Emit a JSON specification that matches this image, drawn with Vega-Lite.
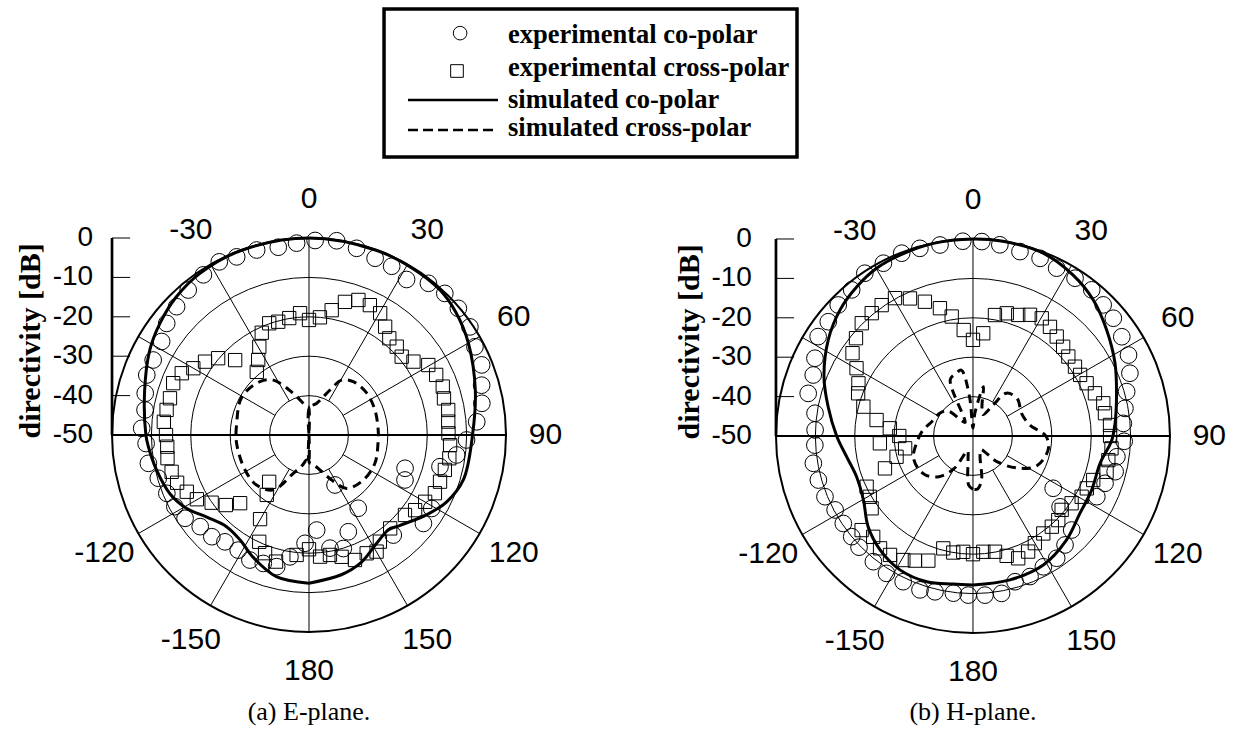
{
"$schema":"https://vega.github.io/schema/vega-lite/v6.json",
"width":1239,"height":738,"padding":0,"autosize":{"type":"none"},
"background":"white",
"config":{"view":{"stroke":null}},
"datasets":{
"rings":[{"lv":-40},{"lv":-30},{"lv":-20},{"lv":-10},{"lv":0}],
"spokes":[{"a":-150},{"a":-120},{"a":-60},{"a":-30},{"a":30},{"a":60},{"a":120},{"a":150}],
"ticks":[{"v":0,"t":"0"},{"v":-10,"t":"-10"},{"v":-20,"t":"-20"},{"v":-30,"t":"-30"},{"v":-40,"t":"-40"},{"v":-50,"t":"-50"}],
"alabels":[{"a":0,"t":"0"},{"a":30,"t":"30"},{"a":60,"t":"60"},{"a":90,"t":"90"},{"a":120,"t":"120"},{"a":150,"t":"150"},{"a":180,"t":"180"},{"a":-150,"t":"-150"},{"a":-120,"t":"-120"},{"a":-30,"t":"-30"}],
"one":[{}],
"Ecs":[{"a":-180,"d":-12.4},{"a":-167,"d":-13.1},{"a":-155,"d":-16},{"a":-147,"d":-18.1},{"a":-138,"d":-18.7},{"a":-129,"d":-16.8},{"a":-121,"d":-13.8},{"a":-113,"d":-11.7},{"a":-103,"d":-10.3},{"a":-94,"d":-9.1},{"a":-90,"d":-8.6},{"a":-75,"d":-6.8},{"a":-62,"d":-4.2},{"a":-53,"d":-2.7},{"a":-44,"d":-1.4},{"a":-34,"d":-0.5},{"a":-20,"d":-0.1},{"a":0,"d":0},{"a":20,"d":-0.1},{"a":32,"d":-0.2},{"a":42,"d":-0.4},{"a":50,"d":-1.4},{"a":60,"d":-3.3},{"a":75,"d":-6.3},{"a":90,"d":-8.5},{"a":106,"d":-9.2},{"a":116,"d":-11.2},{"a":124,"d":-13.9},{"a":135,"d":-17.5},{"a":140,"d":-18.6},{"a":148,"d":-17.6},{"a":158,"d":-15},{"a":167,"d":-13.6},{"a":180,"d":-12.4}],
"Exs":[{"a":-180,"d":-50},{"a":-179,"d":-43},{"a":-174.7,"d":-43.6},{"a":-167,"d":-42},{"a":-157.7,"d":-39.5},{"a":-147,"d":-33.4},{"a":-133.7,"d":-31.6},{"a":-118.7,"d":-31.5},{"a":-96.5,"d":-31.5},{"a":-80.8,"d":-31.4},{"a":-60.4,"d":-30.4},{"a":-42.6,"d":-31.6},{"a":-33,"d":-33.4},{"a":-20.6,"d":-38.7},{"a":-4.6,"d":-42.8},{"a":-1,"d":-43},{"a":0,"d":-50},{"a":1,"d":-43},{"a":13.7,"d":-41.7},{"a":25,"d":-37.4},{"a":30.7,"d":-33.8},{"a":39.7,"d":-32.4},{"a":54.1,"d":-31.9},{"a":69.3,"d":-32.1},{"a":85.9,"d":-32.4},{"a":94.1,"d":-32.4},{"a":113.2,"d":-31.8},{"a":129.6,"d":-32.1},{"a":144.7,"d":-33.4},{"a":153.2,"d":-37.2},{"a":162.6,"d":-40.7},{"a":172,"d":-42.5},{"a":179,"d":-43},{"a":180,"d":-50}],
"Ece":[{"a":1.8,"d":-0.6},{"a":-3.7,"d":-1.2},{"a":-9.3,"d":-1.7},{"a":-15.8,"d":-1.2},{"a":-22.1,"d":-1.2},{"a":-27.4,"d":-0.5},{"a":-33.4,"d":-1.3},{"a":-39.8,"d":-2.1},{"a":-45.9,"d":-3.2},{"a":-51.9,"d":-4.1},{"a":-57.6,"d":-5.7},{"a":-64.3,"d":-6.1},{"a":-69.7,"d":-6.1},{"a":-75.7,"d":-7.1},{"a":-81.3,"d":-7.9},{"a":-87.7,"d":-7.5},{"a":-93,"d":-8.6},{"a":-100,"d":-8.6},{"a":-106,"d":-10.2},{"a":-112.3,"d":-11},{"a":-118.1,"d":-11.4},{"a":-123.9,"d":-12.1},{"a":-130.1,"d":-13.9},{"a":-136.3,"d":-14.3},{"a":-141.8,"d":-15.5},{"a":-148.4,"d":-15.7},{"a":-154.7,"d":-14.9},{"a":-160.4,"d":-15.4},{"a":-166.2,"d":-15.6},{"a":-171.1,"d":-18.7},{"a":-177.9,"d":-22.5},{"a":175.4,"d":-25.8},{"a":169.5,"d":-20.8},{"a":163.2,"d":-19.9},{"a":157.9,"d":-23.5},{"a":152.5,"d":-35.7},{"a":146.1,"d":-27.6},{"a":139.9,"d":-16.8},{"a":127.7,"d":-13.3},{"a":120.9,"d":-13.7},{"a":115.1,"d":-23.1},{"a":109.1,"d":-24.2},{"a":103.6,"d":-15.8},{"a":97.7,"d":-12.2},{"a":91.8,"d":-10},{"a":85.5,"d":-7.3},{"a":79.6,"d":-5.4},{"a":73.9,"d":-4.4},{"a":67.9,"d":-2.7},{"a":62,"d":-2.3},{"a":56.1,"d":-0.8},{"a":49.7,"d":-0.3},{"a":43.8,"d":-0.2},{"a":38.2,"d":-1},{"a":32.1,"d":-3.4},{"a":26.1,"d":-2.3},{"a":20.5,"d":-2.1},{"a":14.3,"d":-1.1},{"a":8.1,"d":-0.2}],
"Exe":[{"a":0,"d":-20.8},{"a":-4.2,"d":-19},{"a":-9.6,"d":-19.9},{"a":-15.2,"d":-20.2},{"a":-19.6,"d":-19.9},{"a":-24.8,"d":-21.4},{"a":-29.4,"d":-24.3},{"a":-34.1,"d":-27},{"a":-39.6,"d":-29.2},{"a":-44.6,"d":-23.3},{"a":-49.8,"d":-19.8},{"a":-54.8,"d":-17.7},{"a":-60,"d":-16.1},{"a":-64.1,"d":-14.1},{"a":-69.1,"d":-13.1},{"a":-75.2,"d":-13.5},{"a":-80,"d":-13.3},{"a":-84.8,"d":-13},{"a":-90,"d":-13.7},{"a":-94.7,"d":-13.9},{"a":-99.3,"d":-13.6},{"a":-105,"d":-13.9},{"a":-109.9,"d":-14.4},{"a":-114.9,"d":-15.8},{"a":-119.8,"d":-17.2},{"a":-124.8,"d":-19.9},{"a":-130.1,"d":-22.4},{"a":-134.7,"d":-25.4},{"a":-139.6,"d":-34.4},{"a":-144.8,"d":-31.4},{"a":-149.8,"d":-25.3},{"a":-155,"d":-20.1},{"a":-159.6,"d":-18},{"a":-165.4,"d":-16.8},{"a":-174.1,"d":-19.4},{"a":180,"d":-21},{"a":5.3,"d":-20},{"a":10.3,"d":-17.8},{"a":15.1,"d":-15},{"a":20.1,"d":-13.5},{"a":25.1,"d":-13.6},{"a":30.3,"d":-14.2},{"a":35.1,"d":-16.4},{"a":39.7,"d":-18.1},{"a":44.8,"d":-18.4},{"a":49.8,"d":-19.2},{"a":54.9,"d":-17.6},{"a":59.6,"d":-14.9},{"a":64.7,"d":-14.3},{"a":70.1,"d":-13.9},{"a":74.8,"d":-14.5},{"a":79.8,"d":-14.1},{"a":84.5,"d":-14.5},{"a":89.3,"d":-14.6},{"a":94.1,"d":-14.1},{"a":99.4,"d":-13.9},{"a":104.4,"d":-14.4},{"a":109.6,"d":-14.7},{"a":114.8,"d":-14.8},{"a":119.9,"d":-16},{"a":125.3,"d":-17},{"a":129.8,"d":-18.3},{"a":139,"d":-18.6},{"a":146.4,"d":-17.5},{"a":149.9,"d":-15.8},{"a":154,"d":-16.6},{"a":159.8,"d":-16.2},{"a":165,"d":-18},{"a":170.1,"d":-19.1},{"a":174.8,"d":-19}],
"Hcs":[{"a":-180,"d":-12.2},{"a":-172.4,"d":-12.1},{"a":-162.4,"d":-11.2},{"a":-151.4,"d":-11.3},{"a":-140.8,"d":-12.7},{"a":-130.9,"d":-14.8},{"a":-120.3,"d":-17.8},{"a":-109.3,"d":-18.7},{"a":-99.3,"d":-17.5},{"a":-90,"d":-15.4},{"a":-78.6,"d":-12.5},{"a":-68.3,"d":-9.3},{"a":-56.4,"d":-5.9},{"a":-46.5,"d":-3.5},{"a":-37.9,"d":-2},{"a":-29.9,"d":-0.9},{"a":-22,"d":-0.5},{"a":-11.6,"d":-0.1},{"a":0,"d":0},{"a":8.8,"d":0},{"a":21,"d":-0.3},{"a":31.9,"d":-1.9},{"a":41.5,"d":-3.9},{"a":51.6,"d":-6.7},{"a":62.9,"d":-9.5},{"a":73.5,"d":-12},{"a":84.9,"d":-13.8},{"a":92,"d":-14.8},{"a":102.1,"d":-17},{"a":114.5,"d":-16.9},{"a":125.9,"d":-16.5},{"a":138,"d":-14.5},{"a":151.4,"d":-12.7},{"a":165.6,"d":-12.3},{"a":180,"d":-12.2}],
"Hxs":[{"a":-180,"d":-36.5},{"a":-175,"d":-37.5},{"a":-168,"d":-44},{"a":-160,"d":-46},{"a":-150,"d":-40.5},{"a":-140,"d":-36.5},{"a":-130,"d":-34.5},{"a":-120,"d":-33.8},{"a":-109,"d":-34},{"a":-97,"d":-35.6},{"a":-85,"d":-37},{"a":-70,"d":-39},{"a":-55,"d":-39.8},{"a":-45,"d":-41},{"a":-37,"d":-45},{"a":-30,"d":-46},{"a":-22,"d":-34.6},{"a":-15,"d":-33.5},{"a":-10,"d":-33},{"a":-5,"d":-40},{"a":0,"d":-48},{"a":5,"d":-44},{"a":12,"d":-37.2},{"a":17,"d":-42.2},{"a":25,"d":-44},{"a":33,"d":-40.6},{"a":38,"d":-36.2},{"a":50,"d":-35.3},{"a":65,"d":-36.4},{"a":79,"d":-35.3},{"a":90,"d":-31.5},{"a":100,"d":-30.6},{"a":115,"d":-32.1},{"a":126,"d":-36.2},{"a":137,"d":-41.1},{"a":150,"d":-46},{"a":161,"d":-44.5},{"a":169,"d":-38.6},{"a":175,"d":-36.5},{"a":180,"d":-36.5}],
"Hce":[{"a":-3,"d":-0.5},{"a":-9.8,"d":-0.8},{"a":-15.8,"d":-0.5},{"a":-21.3,"d":-0.2},{"a":-27.4,"d":-0.6},{"a":-33.6,"d":-0.4},{"a":-39.7,"d":-1.8},{"a":-45.8,"d":-2.3},{"a":-51.7,"d":-3.2},{"a":-57.3,"d":-3.3},{"a":-63.8,"d":-5.3},{"a":-69.1,"d":-6.6},{"a":-75.5,"d":-6.8},{"a":-81.8,"d":-9.5},{"a":-87.8,"d":-9.9},{"a":-93.3,"d":-9.8},{"a":-99.7,"d":-8.9},{"a":-105.9,"d":-9.2},{"a":-112.3,"d":-9.4},{"a":-118.2,"d":-10.3},{"a":-124,"d":-10.3},{"a":-129.7,"d":-10},{"a":-134.3,"d":-9.6},{"a":-141.6,"d":-9.3},{"a":-147.8,"d":-8.8},{"a":-154.4,"d":-9},{"a":-161,"d":-8.7},{"a":-166.3,"d":-9.3},{"a":-172.9,"d":-9.8},{"a":-178.3,"d":-9.6},{"a":175.7,"d":-9.5},{"a":169.7,"d":-9.4},{"a":163.9,"d":-11.5},{"a":157.9,"d":-11.5},{"a":151.7,"d":-12.3},{"a":145.6,"d":-12.4},{"a":139.8,"d":-13.8},{"a":133.6,"d":-15.4},{"a":129.1,"d":-21.5},{"a":123.1,"d":-25.7},{"a":116.1,"d":-15},{"a":109.7,"d":-14.4},{"a":104.1,"d":-12.8},{"a":98.2,"d":-13.1},{"a":92,"d":-11.6},{"a":85.2,"d":-11.7},{"a":79.7,"d":-10.8},{"a":73.9,"d":-9.4},{"a":68.2,"d":-7.1},{"a":62.5,"d":-5.5},{"a":56.3,"d":-4.6},{"a":50,"d":-3.5},{"a":44.8,"d":-3.1},{"a":39.1,"d":-2.2},{"a":32.9,"d":-2.3},{"a":26.5,"d":-2.4},{"a":20.7,"d":-1.8},{"a":14.3,"d":-1.7},{"a":8,"d":-1},{"a":2.6,"d":-0.6}],
"Hxe":[{"a":0,"d":-25.6},{"a":-5,"d":-23},{"a":-10.1,"d":-19.2},{"a":-14.5,"d":-16.5},{"a":-19.7,"d":-13.8},{"a":-24.6,"d":-11.6},{"a":-29.5,"d":-9.8},{"a":-34.9,"d":-9.5},{"a":-39.5,"d":-9.6},{"a":-44.6,"d":-9.8},{"a":-50.1,"d":-11.3},{"a":-55.5,"d":-12.9},{"a":-59.8,"d":-15.8},{"a":-65.3,"d":-18},{"a":-69.6,"d":-18.9},{"a":-75,"d":-21.2},{"a":-80.6,"d":-25.2},{"a":-84.7,"d":-28.8},{"a":-90,"d":-31.3},{"a":-94.5,"d":-26.3},{"a":-100.3,"d":-32.5},{"a":-105.2,"d":-29.9},{"a":-110.2,"d":-26.2},{"a":-115.5,"d":-20.1},{"a":-120.5,"d":-19.6},{"a":-125.5,"d":-18.4},{"a":-130.2,"d":-13},{"a":-135.3,"d":-14},{"a":-140.4,"d":-13},{"a":-145.1,"d":-13.2},{"a":-150.7,"d":-13.9},{"a":-155,"d":-15.1},{"a":-160.3,"d":-16.4},{"a":-165.2,"d":-20.5},{"a":-170.4,"d":-20},{"a":-175.2,"d":-20.5},{"a":180,"d":-20},{"a":5.7,"d":-23.8},{"a":10.3,"d":-18.8},{"a":15.4,"d":-17.7},{"a":20.5,"d":-17.2},{"a":25.2,"d":-16},{"a":30.3,"d":-15.4},{"a":35.2,"d":-16.1},{"a":40.1,"d":-17},{"a":45.3,"d":-17.8},{"a":50.2,"d":-18.5},{"a":55.8,"d":-18.7},{"a":60.3,"d":-18.7},{"a":65.1,"d":-18.2},{"a":70.7,"d":-17.2},{"a":75.9,"d":-15.9},{"a":80.2,"d":-16},{"a":85.4,"d":-15.1},{"a":90,"d":-15.2},{"a":95.1,"d":-14.7},{"a":100.1,"d":-15.1},{"a":105,"d":-14.9},{"a":110.1,"d":-17.5},{"a":114.7,"d":-18.2},{"a":119.2,"d":-18.4},{"a":124.3,"d":-19.7},{"a":129.8,"d":-20.7},{"a":134.6,"d":-19.6},{"a":139,"d":-19.5},{"a":144.2,"d":-19.5},{"a":150,"d":-18.6},{"a":154.5,"d":-17.5},{"a":159.7,"d":-16.9},{"a":164.3,"d":-18.4},{"a":169.2,"d":-20.1},{"a":174.9,"d":-20.5}]
},
"layer":[
{"layer":[
{"data":{"name":"rings"},"transform":[{"filter":"datum.lv<0"}],"mark":{"type":"arc","fillOpacity":0,"stroke":"black","strokeWidth":1,"theta":0,"theta2":6.2832},"encoding":{"x":{"datum":0,"type":"quantitative","scale":{"domain":[-78.43,236.04],"nice":false,"zero":false},"axis":null},"y":{"datum":0,"type":"quantitative","scale":{"domain":[-76.9,110.41],"nice":false,"zero":false},"axis":null},"radius":{"field":"lv","type":"quantitative","scale":{"type":"linear","domain":[-50,0],"range":[0,197],"zero":false}},"radius2":{"datum":-50}}},
{"data":{"name":"rings"},"transform":[{"filter":"datum.lv==0"}],"mark":{"type":"arc","fillOpacity":0,"stroke":"black","strokeWidth":2,"theta":0,"theta2":6.2832},"encoding":{"x":{"datum":0,"type":"quantitative","scale":{"domain":[-78.43,236.04],"nice":false,"zero":false},"axis":null},"y":{"datum":0,"type":"quantitative","scale":{"domain":[-76.9,110.41],"nice":false,"zero":false},"axis":null},"radius":{"field":"lv","type":"quantitative","scale":{"type":"linear","domain":[-50,0],"range":[0,197],"zero":false}},"radius2":{"datum":-50}}},
{"data":{"name":"spokes"},"transform":[{"calculate":"10*sin(datum.a*PI/180)","as":"x0"},{"calculate":"10*cos(datum.a*PI/180)","as":"y0"},{"calculate":"50*sin(datum.a*PI/180)","as":"x1"},{"calculate":"50*cos(datum.a*PI/180)","as":"y1"}],"mark":{"type":"rule","color":"black","strokeWidth":1},"encoding":{"x":{"field":"x0","type":"quantitative","scale":{"domain":[-78.43,236.04],"nice":false,"zero":false},"axis":null},"y":{"field":"y0","type":"quantitative","scale":{"domain":[-76.9,110.41],"nice":false,"zero":false},"axis":null},"x2":{"field":"x1"},"y2":{"field":"y1"}}},
{"data":{"name":"one"},"mark":{"type":"rule","color":"black","strokeWidth":1},"encoding":{"x":{"datum":0,"type":"quantitative","scale":{"domain":[-78.43,236.04],"nice":false,"zero":false},"axis":null},"y":{"datum":-50,"type":"quantitative","scale":{"domain":[-76.9,110.41],"nice":false,"zero":false},"axis":null},"y2":{"datum":50}}},
{"data":{"name":"one"},"mark":{"type":"rule","color":"black","strokeWidth":2},"encoding":{"x":{"datum":-50,"type":"quantitative","scale":{"domain":[-78.43,236.04],"nice":false,"zero":false},"axis":null},"x2":{"datum":50},"y":{"datum":0,"type":"quantitative","scale":{"domain":[-76.9,110.41],"nice":false,"zero":false},"axis":null}}},
{"data":{"name":"one"},"mark":{"type":"rule","color":"black","strokeWidth":2.7},"encoding":{"x":{"datum":-50,"type":"quantitative","scale":{"domain":[-78.43,236.04],"nice":false,"zero":false},"axis":null},"y":{"datum":0,"type":"quantitative","scale":{"domain":[-76.9,110.41],"nice":false,"zero":false},"axis":null},"y2":{"datum":50}}},
{"data":{"name":"ticks"},"transform":[{"calculate":"datum.v+50","as":"yy"}],"mark":{"type":"rule","color":"black","strokeWidth":1},"encoding":{"x":{"datum":-50,"type":"quantitative","scale":{"domain":[-78.43,236.04],"nice":false,"zero":false},"axis":null},"x2":{"datum":-45.4},"y":{"field":"yy","type":"quantitative","scale":{"domain":[-76.9,110.41],"nice":false,"zero":false},"axis":null}}},
{"data":{"name":"ticks"},"transform":[{"calculate":"datum.v+50","as":"yy"}],"mark":{"type":"text","font":"Liberation Sans","fontSize":28,"align":"right","baseline":"middle","color":"black"},"encoding":{"x":{"datum":-54.8,"type":"quantitative","scale":{"domain":[-78.43,236.04],"nice":false,"zero":false},"axis":null},"y":{"field":"yy","type":"quantitative","scale":{"domain":[-76.9,110.41],"nice":false,"zero":false},"axis":null},"text":{"field":"t","type":"nominal"}}},
{"data":{"name":"one"},"mark":{"type":"text","text":"directivity [dB]","font":"Liberation Serif","fontWeight":"bold","fontSize":30,"angle":270,"align":"center","baseline":"middle","color":"black"},"encoding":{"x":{"datum":-70.6,"type":"quantitative","scale":{"domain":[-78.43,236.04],"nice":false,"zero":false},"axis":null},"y":{"datum":23.9,"type":"quantitative","scale":{"domain":[-76.9,110.41],"nice":false,"zero":false},"axis":null}}},
{"data":{"name":"alabels"},"transform":[{"calculate":"60*sin(datum.a*PI/180)","as":"x"},{"calculate":"60*cos(datum.a*PI/180)","as":"y"}],"mark":{"type":"text","font":"Liberation Sans","fontSize":30,"align":"center","baseline":"middle","color":"black"},"encoding":{"x":{"field":"x","type":"quantitative","scale":{"domain":[-78.43,236.04],"nice":false,"zero":false},"axis":null},"y":{"field":"y","type":"quantitative","scale":{"domain":[-76.9,110.41],"nice":false,"zero":false},"axis":null},"text":{"field":"t","type":"nominal"}}},
{"data":{"name":"one"},"mark":{"type":"text","text":"(a) E-plane.","font":"Liberation Serif","fontSize":26,"align":"center","baseline":"middle","color":"black"},"encoding":{"x":{"datum":0,"type":"quantitative","scale":{"domain":[-78.43,236.04],"nice":false,"zero":false},"axis":null},"y":{"datum":-70.3,"type":"quantitative","scale":{"domain":[-76.9,110.41],"nice":false,"zero":false},"axis":null}}},
{"data":{"name":"Ecs"},"transform":[{"calculate":"(datum.d+50)*sin(datum.a*PI/180)","as":"x"},{"calculate":"(datum.d+50)*cos(datum.a*PI/180)","as":"y"}],"mark":{"type":"line","color":"black","strokeWidth":3,"interpolate":"catmull-rom"},"encoding":{"x":{"field":"x","type":"quantitative","scale":{"domain":[-78.43,236.04],"nice":false,"zero":false},"axis":null},"y":{"field":"y","type":"quantitative","scale":{"domain":[-76.9,110.41],"nice":false,"zero":false},"axis":null},"order":{"field":"a","type":"quantitative"}}},
{"data":{"name":"Exs"},"transform":[{"calculate":"(datum.d+50)*sin(datum.a*PI/180)","as":"x"},{"calculate":"(datum.d+50)*cos(datum.a*PI/180)","as":"y"}],"mark":{"type":"line","color":"black","strokeWidth":3,"strokeDash":[9,6],"interpolate":"catmull-rom"},"encoding":{"x":{"field":"x","type":"quantitative","scale":{"domain":[-78.43,236.04],"nice":false,"zero":false},"axis":null},"y":{"field":"y","type":"quantitative","scale":{"domain":[-76.9,110.41],"nice":false,"zero":false},"axis":null},"order":{"field":"a","type":"quantitative"}}},
{"data":{"name":"Ece"},"transform":[{"calculate":"(datum.d+50)*sin(datum.a*PI/180)","as":"x"},{"calculate":"(datum.d+50)*cos(datum.a*PI/180)","as":"y"}],"mark":{"type":"point","shape":"circle","filled":false,"size":279,"color":"black","strokeWidth":1,"opacity":1},"encoding":{"x":{"field":"x","type":"quantitative","scale":{"domain":[-78.43,236.04],"nice":false,"zero":false},"axis":null},"y":{"field":"y","type":"quantitative","scale":{"domain":[-76.9,110.41],"nice":false,"zero":false},"axis":null}}},
{"data":{"name":"Exe"},"transform":[{"calculate":"(datum.d+50)*sin(datum.a*PI/180)","as":"x"},{"calculate":"(datum.d+50)*cos(datum.a*PI/180)","as":"y"}],"mark":{"type":"point","shape":"square","filled":false,"size":177,"color":"black","strokeWidth":1,"opacity":1},"encoding":{"x":{"field":"x","type":"quantitative","scale":{"domain":[-78.43,236.04],"nice":false,"zero":false},"axis":null},"y":{"field":"y","type":"quantitative","scale":{"domain":[-76.9,110.41],"nice":false,"zero":false},"axis":null}}},
{"data":{"name":"one"},"mark":{"type":"rect","fillOpacity":0,"stroke":"black","strokeWidth":3.5},"encoding":{"x":{"datum":19.04,"type":"quantitative","scale":{"domain":[-78.43,236.04],"nice":false,"zero":false},"axis":null},"x2":{"datum":123.86},"y":{"datum":108.12,"type":"quantitative","scale":{"domain":[-76.9,110.41],"nice":false,"zero":false},"axis":null},"y2":{"datum":70.56}}},
{"data":{"name":"one"},"mark":{"type":"point","shape":"circle","filled":false,"size":185,"color":"black","strokeWidth":1,"opacity":1},"encoding":{"x":{"datum":38.35,"type":"quantitative","scale":{"domain":[-78.43,236.04],"nice":false,"zero":false},"axis":null},"y":{"datum":102.0,"type":"quantitative","scale":{"domain":[-76.9,110.41],"nice":false,"zero":false},"axis":null}}},
{"data":{"name":"one"},"mark":{"type":"point","shape":"square","filled":false,"size":160,"color":"black","strokeWidth":1,"opacity":1},"encoding":{"x":{"datum":37.56,"type":"quantitative","scale":{"domain":[-78.43,236.04],"nice":false,"zero":false},"axis":null},"y":{"datum":92.39,"type":"quantitative","scale":{"domain":[-76.9,110.41],"nice":false,"zero":false},"axis":null}}},
{"data":{"name":"one"},"mark":{"type":"rule","color":"black","strokeWidth":2.5},"encoding":{"x":{"datum":25.13,"type":"quantitative","scale":{"domain":[-78.43,236.04],"nice":false,"zero":false},"axis":null},"x2":{"datum":47.97},"y":{"datum":85.03,"type":"quantitative","scale":{"domain":[-76.9,110.41],"nice":false,"zero":false},"axis":null}}},
{"data":{"name":"one"},"mark":{"type":"rule","color":"black","strokeWidth":2.5,"strokeDash":[10,5]},"encoding":{"x":{"datum":25.13,"type":"quantitative","scale":{"domain":[-78.43,236.04],"nice":false,"zero":false},"axis":null},"x2":{"datum":47.97},"y":{"datum":77.41,"type":"quantitative","scale":{"domain":[-76.9,110.41],"nice":false,"zero":false},"axis":null}}},
{"data":{"name":"one"},"mark":{"type":"text","text":"experimental co-polar","font":"Liberation Serif","fontWeight":"bold","fontSize":26.5,"align":"left","baseline":"middle","color":"black"},"encoding":{"x":{"datum":50.5,"type":"quantitative","scale":{"domain":[-78.43,236.04],"nice":false,"zero":false},"axis":null},"y":{"datum":101.52,"type":"quantitative","scale":{"domain":[-76.9,110.41],"nice":false,"zero":false},"axis":null}}},
{"data":{"name":"one"},"mark":{"type":"text","text":"experimental cross-polar","font":"Liberation Serif","fontWeight":"bold","fontSize":26.5,"align":"left","baseline":"middle","color":"black"},"encoding":{"x":{"datum":50.5,"type":"quantitative","scale":{"domain":[-78.43,236.04],"nice":false,"zero":false},"axis":null},"y":{"datum":93.07,"type":"quantitative","scale":{"domain":[-76.9,110.41],"nice":false,"zero":false},"axis":null}}},
{"data":{"name":"one"},"mark":{"type":"text","text":"simulated co-polar","font":"Liberation Serif","fontWeight":"bold","fontSize":26.5,"align":"left","baseline":"middle","color":"black"},"encoding":{"x":{"datum":50.5,"type":"quantitative","scale":{"domain":[-78.43,236.04],"nice":false,"zero":false},"axis":null},"y":{"datum":85.03,"type":"quantitative","scale":{"domain":[-76.9,110.41],"nice":false,"zero":false},"axis":null}}},
{"data":{"name":"one"},"mark":{"type":"text","text":"simulated cross-polar","font":"Liberation Serif","fontWeight":"bold","fontSize":26.5,"align":"left","baseline":"middle","color":"black"},"encoding":{"x":{"datum":50.5,"type":"quantitative","scale":{"domain":[-78.43,236.04],"nice":false,"zero":false},"axis":null},"y":{"datum":77.92,"type":"quantitative","scale":{"domain":[-76.9,110.41],"nice":false,"zero":false},"axis":null}}}
]},
{"layer":[
{"data":{"name":"rings"},"transform":[{"filter":"datum.lv<0"}],"mark":{"type":"arc","fillOpacity":0,"stroke":"black","strokeWidth":1,"theta":0,"theta2":6.2832},"encoding":{"x":{"datum":0,"type":"quantitative","scale":{"domain":[-246.95,67.52],"nice":false,"zero":false},"axis":null},"y":{"datum":0,"type":"quantitative","scale":{"domain":[-76.65,110.66],"nice":false,"zero":false},"axis":null},"radius":{"field":"lv","type":"quantitative","scale":{"type":"linear","domain":[-50,0],"range":[0,197],"zero":false}},"radius2":{"datum":-50}}},
{"data":{"name":"rings"},"transform":[{"filter":"datum.lv==0"}],"mark":{"type":"arc","fillOpacity":0,"stroke":"black","strokeWidth":2,"theta":0,"theta2":6.2832},"encoding":{"x":{"datum":0,"type":"quantitative","scale":{"domain":[-246.95,67.52],"nice":false,"zero":false},"axis":null},"y":{"datum":0,"type":"quantitative","scale":{"domain":[-76.65,110.66],"nice":false,"zero":false},"axis":null},"radius":{"field":"lv","type":"quantitative","scale":{"type":"linear","domain":[-50,0],"range":[0,197],"zero":false}},"radius2":{"datum":-50}}},
{"data":{"name":"spokes"},"transform":[{"calculate":"10*sin(datum.a*PI/180)","as":"x0"},{"calculate":"10*cos(datum.a*PI/180)","as":"y0"},{"calculate":"50*sin(datum.a*PI/180)","as":"x1"},{"calculate":"50*cos(datum.a*PI/180)","as":"y1"}],"mark":{"type":"rule","color":"black","strokeWidth":1},"encoding":{"x":{"field":"x0","type":"quantitative","scale":{"domain":[-246.95,67.52],"nice":false,"zero":false},"axis":null},"y":{"field":"y0","type":"quantitative","scale":{"domain":[-76.65,110.66],"nice":false,"zero":false},"axis":null},"x2":{"field":"x1"},"y2":{"field":"y1"}}},
{"data":{"name":"one"},"mark":{"type":"rule","color":"black","strokeWidth":1},"encoding":{"x":{"datum":0,"type":"quantitative","scale":{"domain":[-246.95,67.52],"nice":false,"zero":false},"axis":null},"y":{"datum":-50,"type":"quantitative","scale":{"domain":[-76.65,110.66],"nice":false,"zero":false},"axis":null},"y2":{"datum":50}}},
{"data":{"name":"one"},"mark":{"type":"rule","color":"black","strokeWidth":2},"encoding":{"x":{"datum":-50,"type":"quantitative","scale":{"domain":[-246.95,67.52],"nice":false,"zero":false},"axis":null},"x2":{"datum":50},"y":{"datum":0,"type":"quantitative","scale":{"domain":[-76.65,110.66],"nice":false,"zero":false},"axis":null}}},
{"data":{"name":"one"},"mark":{"type":"rule","color":"black","strokeWidth":2.7},"encoding":{"x":{"datum":-50,"type":"quantitative","scale":{"domain":[-246.95,67.52],"nice":false,"zero":false},"axis":null},"y":{"datum":0,"type":"quantitative","scale":{"domain":[-76.65,110.66],"nice":false,"zero":false},"axis":null},"y2":{"datum":50}}},
{"data":{"name":"ticks"},"transform":[{"calculate":"datum.v+50","as":"yy"}],"mark":{"type":"rule","color":"black","strokeWidth":1},"encoding":{"x":{"datum":-50,"type":"quantitative","scale":{"domain":[-246.95,67.52],"nice":false,"zero":false},"axis":null},"x2":{"datum":-45.4},"y":{"field":"yy","type":"quantitative","scale":{"domain":[-76.65,110.66],"nice":false,"zero":false},"axis":null}}},
{"data":{"name":"ticks"},"transform":[{"calculate":"datum.v+50","as":"yy"}],"mark":{"type":"text","font":"Liberation Sans","fontSize":28,"align":"right","baseline":"middle","color":"black"},"encoding":{"x":{"datum":-56.1,"type":"quantitative","scale":{"domain":[-246.95,67.52],"nice":false,"zero":false},"axis":null},"y":{"field":"yy","type":"quantitative","scale":{"domain":[-76.65,110.66],"nice":false,"zero":false},"axis":null},"text":{"field":"t","type":"nominal"}}},
{"data":{"name":"one"},"mark":{"type":"text","text":"directivity [dB]","font":"Liberation Serif","fontWeight":"bold","fontSize":30,"angle":270,"align":"center","baseline":"middle","color":"black"},"encoding":{"x":{"datum":-71.8,"type":"quantitative","scale":{"domain":[-246.95,67.52],"nice":false,"zero":false},"axis":null},"y":{"datum":23.9,"type":"quantitative","scale":{"domain":[-76.65,110.66],"nice":false,"zero":false},"axis":null}}},
{"data":{"name":"alabels"},"transform":[{"calculate":"60*sin(datum.a*PI/180)","as":"x"},{"calculate":"60*cos(datum.a*PI/180)","as":"y"}],"mark":{"type":"text","font":"Liberation Sans","fontSize":30,"align":"center","baseline":"middle","color":"black"},"encoding":{"x":{"field":"x","type":"quantitative","scale":{"domain":[-246.95,67.52],"nice":false,"zero":false},"axis":null},"y":{"field":"y","type":"quantitative","scale":{"domain":[-76.65,110.66],"nice":false,"zero":false},"axis":null},"text":{"field":"t","type":"nominal"}}},
{"data":{"name":"one"},"mark":{"type":"text","text":"(b) H-plane.","font":"Liberation Serif","fontSize":26,"align":"center","baseline":"middle","color":"black"},"encoding":{"x":{"datum":0,"type":"quantitative","scale":{"domain":[-246.95,67.52],"nice":false,"zero":false},"axis":null},"y":{"datum":-70.05,"type":"quantitative","scale":{"domain":[-76.65,110.66],"nice":false,"zero":false},"axis":null}}},
{"data":{"name":"Hcs"},"transform":[{"calculate":"(datum.d+50)*sin(datum.a*PI/180)","as":"x"},{"calculate":"(datum.d+50)*cos(datum.a*PI/180)","as":"y"}],"mark":{"type":"line","color":"black","strokeWidth":3,"interpolate":"catmull-rom"},"encoding":{"x":{"field":"x","type":"quantitative","scale":{"domain":[-246.95,67.52],"nice":false,"zero":false},"axis":null},"y":{"field":"y","type":"quantitative","scale":{"domain":[-76.65,110.66],"nice":false,"zero":false},"axis":null},"order":{"field":"a","type":"quantitative"}}},
{"data":{"name":"Hxs"},"transform":[{"calculate":"(datum.d+50)*sin(datum.a*PI/180)","as":"x"},{"calculate":"(datum.d+50)*cos(datum.a*PI/180)","as":"y"}],"mark":{"type":"line","color":"black","strokeWidth":3,"strokeDash":[9,6],"interpolate":"catmull-rom"},"encoding":{"x":{"field":"x","type":"quantitative","scale":{"domain":[-246.95,67.52],"nice":false,"zero":false},"axis":null},"y":{"field":"y","type":"quantitative","scale":{"domain":[-76.65,110.66],"nice":false,"zero":false},"axis":null},"order":{"field":"a","type":"quantitative"}}},
{"data":{"name":"Hce"},"transform":[{"calculate":"(datum.d+50)*sin(datum.a*PI/180)","as":"x"},{"calculate":"(datum.d+50)*cos(datum.a*PI/180)","as":"y"}],"mark":{"type":"point","shape":"circle","filled":false,"size":279,"color":"black","strokeWidth":1,"opacity":1},"encoding":{"x":{"field":"x","type":"quantitative","scale":{"domain":[-246.95,67.52],"nice":false,"zero":false},"axis":null},"y":{"field":"y","type":"quantitative","scale":{"domain":[-76.65,110.66],"nice":false,"zero":false},"axis":null}}},
{"data":{"name":"Hxe"},"transform":[{"calculate":"(datum.d+50)*sin(datum.a*PI/180)","as":"x"},{"calculate":"(datum.d+50)*cos(datum.a*PI/180)","as":"y"}],"mark":{"type":"point","shape":"square","filled":false,"size":177,"color":"black","strokeWidth":1,"opacity":1},"encoding":{"x":{"field":"x","type":"quantitative","scale":{"domain":[-246.95,67.52],"nice":false,"zero":false},"axis":null},"y":{"field":"y","type":"quantitative","scale":{"domain":[-76.65,110.66],"nice":false,"zero":false},"axis":null}}}
]}
],
"resolve":{"scale":{"x":"independent","y":"independent"}}
}
